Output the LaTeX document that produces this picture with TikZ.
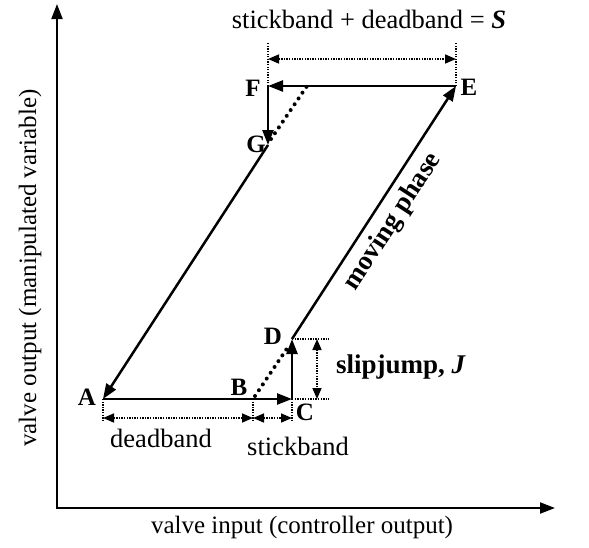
\documentclass[tikz,border=0pt]{standalone}
\usepackage{fontspec}
\setmainfont{Liberation Serif}
\usetikzlibrary{arrows.meta}
\begin{document}
\begin{tikzpicture}[x=1pt,y=-1pt,
  axis/.style={line width=2pt,-{Triangle[length=15pt,width=11pt]}},
  path/.style={line width=2.5pt,-{Triangle[length=15pt,width=11pt]}},
  ext/.style={line width=1.5pt,dash pattern=on 1.3pt off 1.3pt},
  dim/.style={line width=1.6pt,dash pattern=on 1.3pt off 1.3pt,{Triangle[length=11pt,width=9pt]}-{Triangle[length=11pt,width=9pt]}},
  dots/.style={line width=4pt,dash pattern=on 0pt off 7pt,line cap=round},
  lab/.style={font=\fontsize{25}{28}\selectfont\bfseries,inner sep=0pt},
  txt/.style={font=\fontsize{25}{28}\selectfont,inner sep=0pt},
  txtb/.style={font=\fontsize{26.5}{30}\selectfont,inner sep=0pt}]
\useasboundingbox (0,0) rectangle (589,547);
% axes
\coordinate (O) at (57,508);
\coordinate (Ytip) at (57,4);
\coordinate (Xtip) at (555,508);
\draw[axis] (O) -- (Ytip);
\draw[axis] ([xshift=-1pt]O) -- (Xtip);
\node[txt] (xl) at (302,527) {valve input (controller output)};
\node[txt,rotate=90] (yl) at (30,268) {valve output (manipulated variable)};
% points
\coordinate (A) at (103,399);
\coordinate (B) at (253,399);
\coordinate (C) at (292,399);
\coordinate (D) at (292,339);
\coordinate (E) at (456,86);
\coordinate (F) at (268,86);
\coordinate (G) at (268,145);
\coordinate (Gd) at (307,86);
% path
\draw[path] (A) -- (C);
\draw[path] (C) -- (D);
\draw[path] (D) -- (E);
\draw[path] (E) -- (F);
\draw[path] (F) -- (G);
\draw[path] (G) -- (A);
\draw[dots] ([shift={(2,-3)}]B) -- ([shift={(-2,5)}]D);
\draw[dots] ([shift={(3,-6)}]G) -- (Gd);
% labels
\node[lab] (lA) at (87,397) {A};
\node[lab] (lB) at (239,387) {B};
\node[lab] (lC) at (305,412) {C};
\node[lab] (lD) at (273,336) {D};
\node[lab] (lE) at (469,87) {E};
\node[lab] (lF) at (253,88) {F};
\node[lab] (lG) at (256,144) {G};
% bottom dimensions
\coordinate (A1) at (103,422);
\coordinate (B1) at (253,422);
\coordinate (C1) at (292,422);
\draw[ext] (A) -- (A1);
\draw[ext] (B) -- (B1);
\draw[ext] (C) -- (C1);
\coordinate (Ad) at (103,418);
\coordinate (Bd) at (253,418);
\coordinate (Cd) at (292,418);
\draw[dim] (Ad) -- (Bd);
\draw[dim] (Bd) -- (Cd);
\node[txtb] (db) at (161,438) {deadband};
\node[txtb] (sb) at (298,446) {stickband};
% slipjump
\coordinate (D2) at (329,339);
\coordinate (C2) at (329,399);
\draw[ext] (D) -- (D2);
\draw[ext] (C) -- (C2);
\coordinate (Dj) at (317,339);
\coordinate (Cj) at (317,399);
\draw[dim] (Dj) -- (Cj);
\node[font=\fontsize{27}{30}\selectfont\bfseries,inner sep=0pt] (sj) at (401,367) {slipjump, \textit{J}};
% top dimension
\coordinate (F2) at (268,42);
\coordinate (E2) at (456,42);
\draw[ext] (F) -- (F2);
\draw[ext] (E) -- (E2);
\coordinate (Fs) at (268,59);
\coordinate (Es) at (456,59);
\draw[dim] (Fs) -- (Es);
\node[txtb] (st) at (369,19) {stickband + deadband = \textbf{\textit{S}}};
% moving phase
\node[font=\fontsize{27}{30}\selectfont\bfseries,inner sep=0pt,rotate=57] (mp) at (393,222) {moving phase};
\end{tikzpicture}
\end{document}
